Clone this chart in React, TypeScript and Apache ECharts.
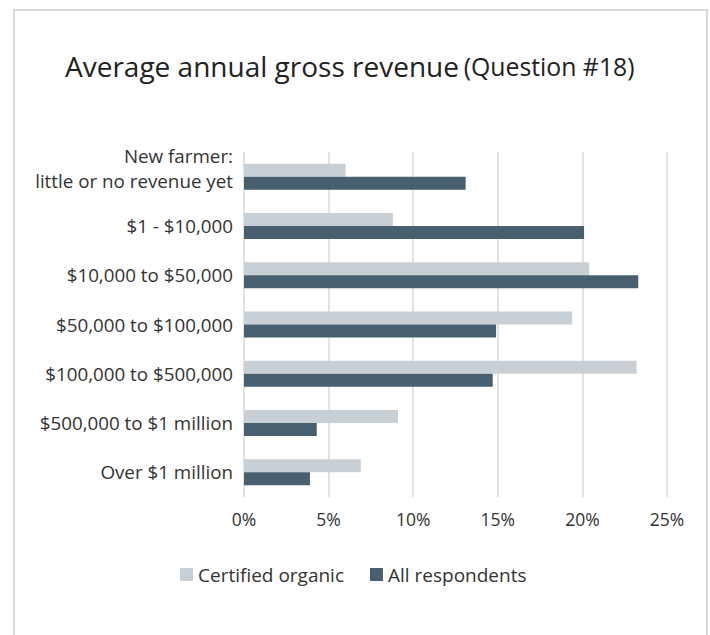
import React, { useEffect, useRef } from "react";
import * as echarts from "echarts";

const categories = [
  "New farmer:\nlittle or no revenue yet",
  "$1 - $10,000",
  "$10,000 to $50,000",
  "$50,000 to $100,000",
  "$100,000 to $500,000",
  "$500,000 to $1 million",
  "Over $1 million",
];
const certifiedOrganic = [6.0, 8.8, 20.4, 19.4, 23.2, 9.1, 6.9];
const allRespondents = [13.1, 20.1, 23.3, 14.9, 14.7, 4.3, 3.9];
const xTicks = [0, 5, 10, 15, 20, 25];

const FONT = "'Open Sans', 'Noto Sans', sans-serif";

export default function App() {
  const ref = useRef<HTMLDivElement>(null);
  useEffect(() => {
    if (!ref.current) return;
    const chart = echarts.init(ref.current, null, { renderer: "svg" });
    chart.setOption({
      animation: false,
      backgroundColor: "#ffffff",
      textStyle: { fontFamily: FONT },
      graphic: [
        {
          type: "rect",
          shape: { x: 14, y: 10, width: 693, height: 660 },
          style: { fill: "none", stroke: "#d3d9dd", lineWidth: 2 },
          silent: true,
        },
      ],
      title: {
        text: "{a|Average annual gross revenue} {b|(Question #18)}",
        left: 60,
        top: 47,
        textStyle: {
          rich: {
            a: { fontSize: 28, color: "#222222", fontFamily: FONT, fontWeight: "normal" },
            b: { fontSize: 24.8, color: "#222222", fontFamily: FONT, fontWeight: "normal" },
          },
        },
      },
      legend: {
        left: 175,
        top: 560,
        icon: "rect",
        itemWidth: 13,
        itemHeight: 13,
        itemGap: 26,
        textStyle: { fontSize: 19, color: "#333333", fontFamily: FONT },
        data: ["Certified organic", "All respondents"],
      },
      grid: { left: 244, right: 43, top: 152, bottom: 138, containLabel: false },
      xAxis: {
        type: "value",
        min: xTicks[0],
        max: xTicks[xTicks.length - 1],
        interval: 5,
        axisLine: { show: false },
        axisTick: { show: false },
        axisLabel: {
          formatter: "{value}%",
          fontSize: 17.5,
          color: "#333333",
          margin: 13,
          fontFamily: FONT,
        },
        splitLine: { lineStyle: { color: "#d9d9d9", width: 1.5 } },
      },
      yAxis: {
        type: "category",
        inverse: true,
        data: categories,
        axisLine: { show: false },
        axisTick: { show: false },
        axisLabel: {
          fontSize: 18.8,
          color: "#333333",
          margin: 11,
          lineHeight: 25,
          fontFamily: FONT,
          formatter: (v: string) => (v.indexOf("\n") >= 0 ? v + "\n{sp| }" : v),
          rich: { sp: { fontSize: 4, lineHeight: 16 } },
        },
      },
      series: [
        {
          name: "Certified organic",
          type: "bar",
          data: certifiedOrganic,
          barWidth: 13,
          barGap: "0%",
          itemStyle: { color: "#c8d0d6" },
        },
        {
          name: "All respondents",
          type: "bar",
          data: allRespondents,
          barWidth: 13,
          barGap: "0%",
          itemStyle: { color: "#475f6f" },
        },
      ],
    });
    return () => chart.dispose();
  }, []);
  return (
    <div
      ref={ref}
      style={{ position: "fixed", left: 0, top: 0, width: 710, height: 635 }}
    />
  );
}
